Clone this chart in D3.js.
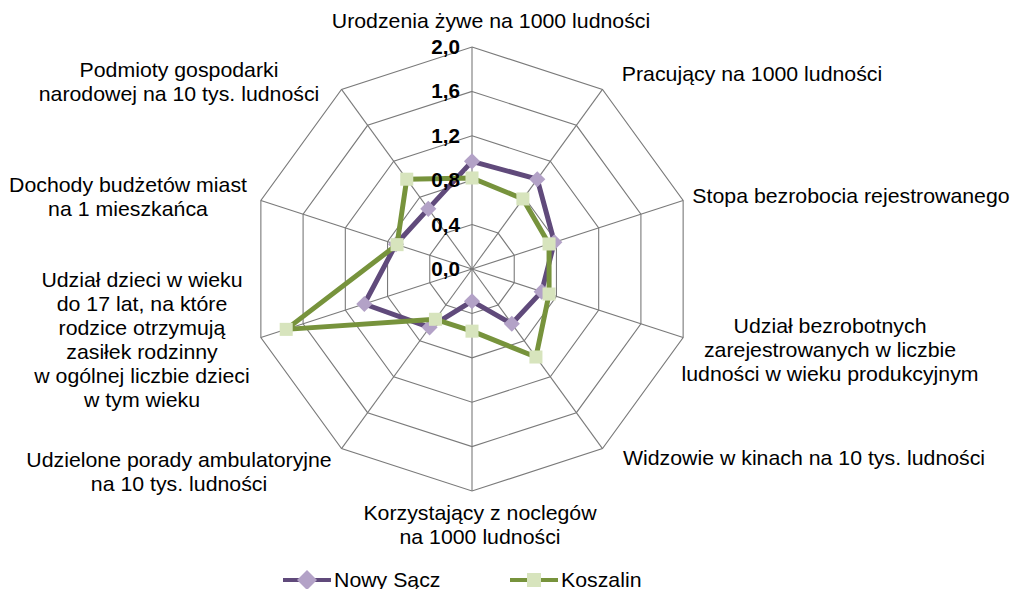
<!DOCTYPE html>
<html>
<head>
<meta charset="utf-8">
<script src="https://cdn.jsdelivr.net/npm/d3@7"></script>
<style>
  body { margin: 0; background: #fff; }
  svg { display: block; font-family: "Liberation Sans", Arial, sans-serif; }
</style>
</head>
<body>
<script>
// categories, clockwise from the top
var categories = [
  ["Urodzenia żywe na 1000 ludności"],
  ["Pracujący na 1000 ludności"],
  ["Stopa bezrobocia rejestrowanego"],
  ["Udział bezrobotnych", "zarejestrowanych w liczbie", "ludności w wieku produkcyjnym"],
  ["Widzowie w kinach na 10 tys. ludności"],
  ["Korzystający z noclegów", "na 1000 ludności"],
  ["Udzielone porady ambulatoryjne", "na 10 tys. ludności"],
  ["Udział dzieci w wieku", "do 17 lat, na które", "rodzice otrzymują", "zasiłek rodzinny", "w ogólnej liczbie dzieci", "w tym wieku"],
  ["Dochody budżetów miast", "na 1 mieszkańca"],
  ["Podmioty gospodarki", "narodowej na 10 tys. ludności"]
];

var nowySacz = [0.97, 1.00, 0.78, 0.66, 0.61, 0.29, 0.65, 1.02, 0.72, 0.67];
var koszalin = [0.82, 0.78, 0.73, 0.73, 0.98, 0.56, 0.56, 1.76, 0.71, 1.00];

var ticks = [0, 0.4, 0.8, 1.2, 1.6, 2.0];

// label anchor spots (centre x, first baseline y)
var labelSpots = [
  [491, 28], [752, 81], [851, 203], [830, 333], [804, 465],
  [480, 520], [179, 467], [142, 287], [128, 192], [179, 77]
];

var w = 1013, h = 589;
var cx = 472, cy = 269;
var fmt = d3.format(".1f");

var svg = d3.select("body").append("svg")
  .attr("width", w)
  .attr("height", h);

var r = d3.scaleLinear().domain([0, 2]).range([0, 222]);
var angle = d3.scaleLinear().domain([0, categories.length]).range([0, 2 * Math.PI]);

var g = svg.append("g").attr("transform", `translate(${cx},${cy})`);

var pt = function (i, v) {
  var a = angle(i);
  return [r(v) * Math.sin(a), -r(v) * Math.cos(a)];
};

// grid rings
g.selectAll(".ring")
  .data(ticks.slice(1))
  .enter()
  .append("polygon")
  .attr("class", "ring")
  .attr("points", t => categories.map((c, i) => pt(i, t).join(",")).join(" "))
  .attr("fill", "none")
  .attr("stroke", "#7a7a7a")
  .attr("stroke-width", 1.1);

// spokes
g.selectAll(".spoke")
  .data(categories)
  .enter()
  .append("line")
  .attr("x1", 0).attr("y1", 0)
  .attr("x2", (d, i) => pt(i, 2)[0])
  .attr("y2", (d, i) => pt(i, 2)[1])
  .attr("stroke", "#7a7a7a")
  .attr("stroke-width", 1.1);

var series = [
  { name: "Nowy Sącz", values: nowySacz, line: "#604A7B", fill: "#B3A2C7", shape: "diamond" },
  { name: "Koszalin", values: koszalin, line: "#77933C", fill: "#D7E4BD", shape: "square" }
];

var radial = d3.lineRadial()
  .angle((d, i) => angle(i))
  .radius(d => r(d))
  .curve(d3.curveLinearClosed);

var markerPath = function (shape, big) {
  if (shape == "diamond") return d3.symbol(d3.symbolSquare, big ? 200 : 130)();
  return d3.symbol(d3.symbolSquare, big ? 196 : 170)();
};

series.forEach(function (s) {
  var sg = g.append("g");
  sg.append("path")
    .attr("d", radial(s.values))
    .attr("fill", "none")
    .attr("stroke", s.line)
    .attr("stroke-width", 5)
    .attr("stroke-linejoin", "round");
  sg.selectAll(".mk")
    .data(s.values)
    .enter()
    .append("path")
    .attr("d", markerPath(s.shape))
    .attr("transform", (d, i) => `translate(${pt(i, d)})` + (s.shape == "diamond" ? " rotate(45)" : ""))
    .attr("fill", s.fill);
});

// tick labels
g.selectAll(".tick")
  .data(ticks)
  .enter()
  .append("text")
  .attr("transform", d => `translate(-12,${-r(d) + 7}) scale(1.06,1)`)
  .attr("text-anchor", "end")
  .attr("font-size", "19.5px")
  .attr("font-weight", "bold")
  .attr("fill", "#000")
  .text(d => fmt(d).replace(".", ","));

// category labels
var lab = svg.selectAll(".cat")
  .data(categories)
  .enter()
  .append("text")
  .attr("transform", (d, i) => `translate(${labelSpots[i][0]},${labelSpots[i][1]}) scale(1.065,1)`)
  .attr("text-anchor", "middle")
  .attr("font-size", "20px")
  .attr("fill", "#000");

lab.selectAll("tspan")
  .data(d => d)
  .enter()
  .append("tspan")
  .attr("x", 0)
  .attr("dy", (d, i) => i == 0 ? 0 : 24)
  .text(d => d);

// legend
var legendX = [283, 510];
var leg = svg.selectAll(".legend")
  .data(series)
  .enter()
  .append("g")
  .attr("transform", (d, i) => `translate(${legendX[i]},580)`);

leg.append("line")
  .attr("x1", 0).attr("x2", 48)
  .attr("stroke", d => d.line)
  .attr("stroke-width", 4);

leg.append("path")
  .attr("d", d => markerPath(d.shape, true))
  .attr("transform", d => "translate(24,0)" + (d.shape == "diamond" ? " rotate(45)" : ""))
  .attr("fill", d => d.fill);

leg.append("text")
  .attr("transform", "translate(51,7) scale(1.065,1)")
  .attr("font-size", "20px")
  .attr("fill", "#000")
  .text(d => d.name);
</script>
</body>
</html>
